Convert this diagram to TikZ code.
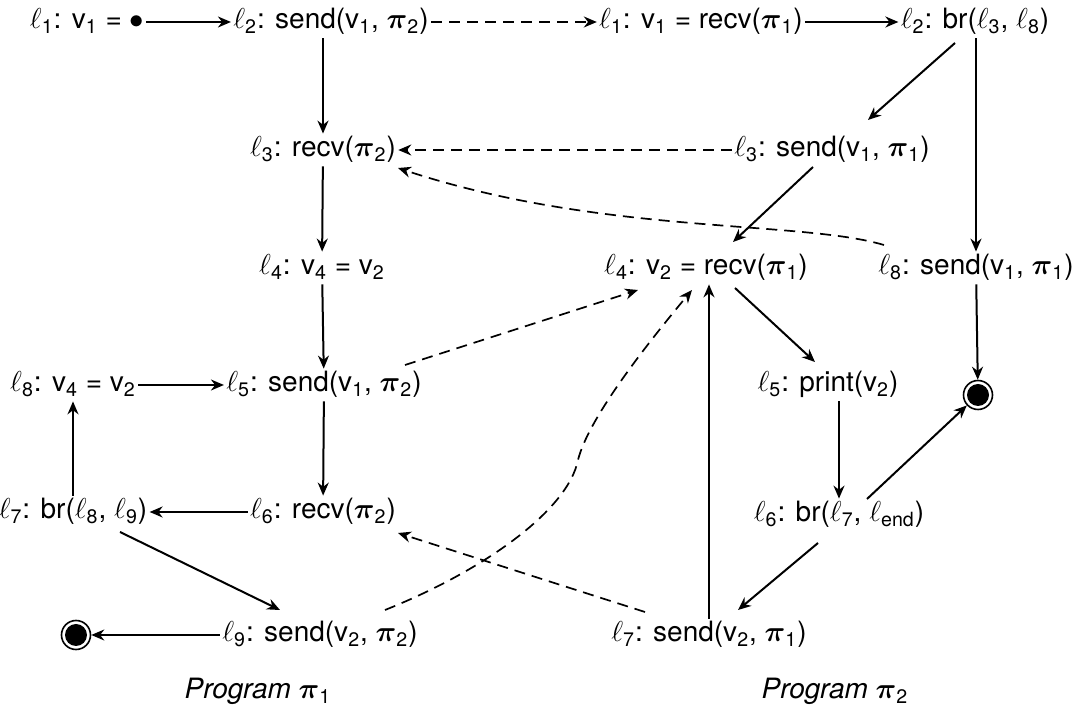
\documentclass[tikz,border=0pt]{standalone}
\usepackage{amsmath}
\usepackage{fontspec}
\setmainfont{TeX Gyre Heros}
\usetikzlibrary{arrows.meta}
\newcommand{\lbl}[1]{$\ell_{\text{#1}}$}
\newcommand{\pvar}[1]{v$_{\text{#1}}$}
\newcommand{\pprog}[1]{$\boldsymbol{\pi}_{\text{#1}}$}
\begin{document}
\begin{tikzpicture}[x=0.5pt, y=-0.5pt, every node/.style={inner sep=1pt, font=\fontsize{14}{16}\selectfont, text height=10.5pt, text depth=3.5pt},
  flow/.style={-{Stealth[length=6.5pt,width=5.5pt]}, line width=1pt}, msg/.style={flow, line width=0.85pt, dash pattern=on 5.5pt off 3.5pt},
  final/.style={circle, draw, line width=0.8pt, minimum size=14.5pt, inner sep=0pt, text height=0pt, text depth=0pt, path picture={\fill (path picture bounding box.center) circle (5.5pt);}}]
\useasboundingbox (0,0) rectangle (1073,721);
% program pi_1
\node (a1) at (87,22) {\lbl{1}: \pvar{1} = $\bullet$}; \node (a2) at (331,22) {\lbl{2}: send(\pvar{1}, \pprog{2})};
\node (a3) at (323,150) {\lbl{3}: recv(\pprog{2})}; \node (a4) at (322,268) {\lbl{4}: \pvar{4} = \pvar{2}};
\node (a8) at (73,385) {\lbl{8}: \pvar{4} = \pvar{2}}; \node (a5) at (324,385) {\lbl{5}: send(\pvar{1}, \pprog{2})};
\node (a7) at (73,512) {\lbl{7}: br(\lbl{8}, \lbl{9})}; \node (a6) at (323,512) {\lbl{6}: recv(\pprog{2})};
\node[final] (e1) at (76,635) {}; \node (a9) at (320,635) {\lbl{9}: send(\pvar{2}, \pprog{2})};
% program pi_2
\node (b1) at (701,22) {\lbl{1}: \pvar{1} = recv(\pprog{1})}; \node (b2) at (975,22) {\lbl{2}: br(\lbl{3}, \lbl{8})};
\node (b3) at (832,150) {\lbl{3}: send(\pvar{1}, \pprog{1})};
\node (b4) at (706,268) {\lbl{4}: \pvar{2} = recv(\pprog{1})}; \node (b8) at (976,268) {\lbl{8}: send(\pvar{1}, \pprog{1})};
\node (b5) at (828,385) {\lbl{5}: print(\pvar{2})}; \node[final] (e2) at (978,395) {};
\node (b6) at (839,515) {\lbl{6}: br(\lbl{7}, \lbl{end})};
\node (b7) at (709,635) {\lbl{7}: send(\pvar{2}, \pprog{1})};
\node (p1) at (258,692) {\textit{Program} \pprog{1}}; \node (p2) at (835,692) {\textit{Program} \pprog{2}};
% control flow
\draw[flow] (a1) -- (a2); \draw[flow] (a3 |- a2.south) -- (a3); \draw[flow] (a3) -- (a4); \draw[flow] (a4) -- (a5);
\draw[flow] (a5) -- (a6); \draw[flow] (a6) -- (a7); \draw[flow] (a7) -- (a8); \draw[flow] (a8) -- (a5);
\draw[flow] ([shift={(47,20)}]a7.center) -- ([shift={(-40,-25)}]a9.center); \draw[flow] (a9) -- (e1);
\draw[flow] (b1) -- (b2); \draw[flow] ([shift={(-20,21)}]b2.center) -- ([shift={(36,-30)}]b3.center);
\draw[flow] (b8 |- b2.south) -- (b8); \draw[flow] ([shift={(-19,17)}]b3.center) -- ([shift={(27,-26)}]b4.center);
\draw[flow] ([shift={(29,20)}]b4.center) -- ([shift={(-13,-23)}]b5.center); \draw[flow] (b6 |- b5.south) -- (b6);
\draw[flow] ([shift={(28,-16)}]b6.center) -- (e2); \draw[flow] ([shift={(-21,28)}]b6.center) -- ([shift={(29,-25)}]b7.center);
\draw[flow] (b7.north) -- (b7.north |- b4.south); \draw[flow] (b8) -- (e2);
% messages
\draw[msg] (a2) -- (b1); \draw[msg] (b3) -- (a3);
\draw[msg] ([shift={(-92,-23)}]b8.center) .. controls (800,220) and (600,235) .. ([shift={(75,18)}]a3.center);
\draw[msg] ([shift={(81,-20)}]a5.center) -- ([shift={(-68,22)}]b4.center);
\draw[msg] ([shift={(65,-25)}]a9.center) .. controls (485,570) and (568,510) .. (578,460) .. controls (588,420) and (642,350) .. ([shift={(-14,22)}]b4.center);
\draw[msg] ([shift={(-64,-23)}]b7.center) -- ([shift={(75,21)}]a6.center);
\end{tikzpicture}
\end{document}
